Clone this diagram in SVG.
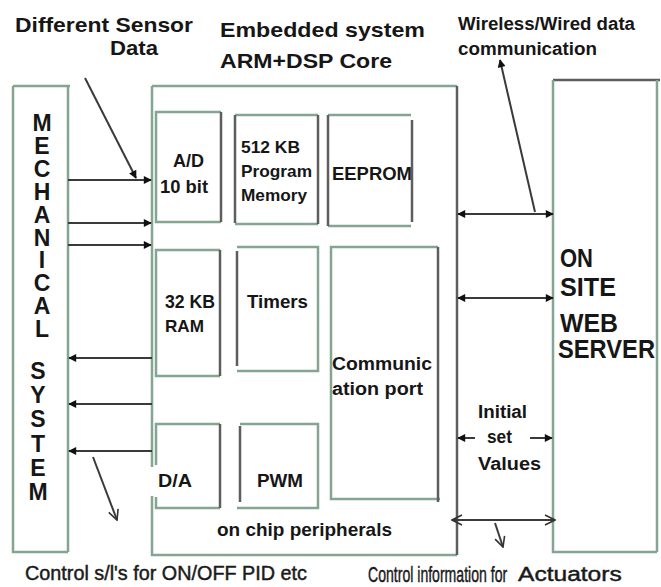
<svg xmlns="http://www.w3.org/2000/svg" width="661" height="587" viewBox="0 0 661 587">
<defs>
<style>
.g{fill:none;stroke:#84a592;stroke-width:2.5}
.d{fill:none;stroke:#5e5e5e;stroke-width:2.5}
.c{fill:none;stroke:#3a3a3a;stroke-width:2}
.t{font-family:"Liberation Sans",Arial,sans-serif;font-weight:bold;fill:#161616}
.n{font-family:"Liberation Sans",Arial,sans-serif;font-weight:normal;fill:#1a1a1a;stroke:#1a1a1a;stroke-width:0.45}
.v{writing-mode:vertical-rl;text-orientation:upright}
</style>
<marker id="ah" viewBox="0 0 10 10" refX="9" refY="5" markerWidth="9" markerHeight="8" markerUnits="userSpaceOnUse" orient="auto-start-reverse">
<path d="M0,0 L10,5 L0,10 Z" fill="#111"/>
</marker>
<marker id="oh" viewBox="0 0 12 12" refX="11" refY="6" markerWidth="12" markerHeight="12" markerUnits="userSpaceOnUse" orient="auto-start-reverse">
<path d="M1,1 L11,6 L1,11" fill="none" stroke="#333" stroke-width="1.6"/>
</marker>
</defs>
<rect width="661" height="587" fill="#fff"/>

<g id="titles">
<text class="t" x="15" y="32" font-size="21" textLength="178" lengthAdjust="spacingAndGlyphs">Different Sensor</text>
<text class="t" x="110" y="55" font-size="21" textLength="48" lengthAdjust="spacingAndGlyphs">Data</text>
<text class="t" x="220" y="37" font-size="21" textLength="205" lengthAdjust="spacingAndGlyphs">Embedded system</text>
<text class="t" x="220" y="68" font-size="21" textLength="172" lengthAdjust="spacingAndGlyphs">ARM+DSP Core</text>
<text class="t" x="458" y="30" font-size="18" textLength="177" lengthAdjust="spacingAndGlyphs">Wireless/Wired data</text>
<text class="t" x="458" y="55" font-size="18" textLength="139" lengthAdjust="spacingAndGlyphs">communication</text>
<text class="n" x="25" y="580" font-size="20" textLength="282" lengthAdjust="spacingAndGlyphs">Control s/l's for ON/OFF PID etc</text>
<text class="n" transform="translate(368,582) scale(0.64,1)" font-size="22">Control information for</text>
<text class="n" transform="translate(518,581) scale(1.17,1)" font-size="21">Actuators</text>
</g>

<g id="mechanical">
<path class="g" d="M13,86 H70 M13,86 V552 H68 M68,86 V552"/>
<text class="t v" x="42" y="110" font-size="23" letter-spacing="-3.1">MECHANICAL</text>
<text class="t v" x="38" y="358" font-size="23" letter-spacing="-1.8">SYSTEM</text>
</g>

<g id="embedded">
<path class="g" d="M152,86 H457 M152,86 V467 M152,496 V555 H457"/>
<path class="d" d="M457,86 V555"/>
<text class="t" x="217" y="536" font-size="19" textLength="175" lengthAdjust="spacingAndGlyphs">on chip peripherals</text>
</g>

<g id="ad">
<path class="g" d="M221,112 H156 V222 H221"/>
<path class="d" d="M221,112 V222"/>
<text class="t" x="173" y="167" font-size="18" textLength="31" lengthAdjust="spacingAndGlyphs">A/D</text>
<text class="t" x="160" y="193" font-size="18" textLength="48" lengthAdjust="spacingAndGlyphs">10 bit</text>
</g>

<g id="program">
<path class="g" d="M235,115 H318 M235,224 H318"/>
<path class="d" d="M235,115 V223 M318,115 V224"/>
<text class="t" x="241" y="153" font-size="17" textLength="59" lengthAdjust="spacingAndGlyphs">512 KB</text>
<text class="t" x="241" y="177" font-size="17" textLength="71" lengthAdjust="spacingAndGlyphs">Program</text>
<text class="t" x="241" y="201" font-size="17" textLength="66" lengthAdjust="spacingAndGlyphs">Memory</text>
</g>

<g id="eeprom">
<path class="g" d="M328,115 H411 M328,226 H411"/>
<path class="d" d="M328,115 V226 M412,120 V222"/>
<text class="t" x="332" y="180" font-size="18" textLength="80" lengthAdjust="spacingAndGlyphs">EEPROM</text>
</g>

<g id="ram">
<path class="g" d="M220,250 H156 V376 H220"/>
<path class="d" d="M220,250 V376"/>
<text class="t" x="165" y="308" font-size="18" textLength="50" lengthAdjust="spacingAndGlyphs">32 KB</text>
<text class="t" x="165" y="332" font-size="17" textLength="39" lengthAdjust="spacingAndGlyphs">RAM</text>
</g>

<g id="timers">
<path class="g" d="M237,247 H318 V371 H237"/>
<path class="d" d="M237,251 V366"/>
<text class="t" x="247" y="308" font-size="18" textLength="61" lengthAdjust="spacingAndGlyphs">Timers</text>
</g>

<g id="comm">
<path class="g" d="M438,247 H331 V499 H440"/>
<path class="d" d="M438,247 V502"/>
<text class="t" x="332" y="370" font-size="18" textLength="100" lengthAdjust="spacingAndGlyphs">Communic</text>
<text class="t" x="332" y="395" font-size="18" textLength="91" lengthAdjust="spacingAndGlyphs">ation port</text>
</g>

<g id="da">
<path class="g" d="M220,424 H156 V465 M156,497 V508 H220"/>
<path class="d" d="M220,424 V508"/>
<text class="t" x="158" y="487" font-size="18" textLength="34" lengthAdjust="spacingAndGlyphs">D/A</text>
</g>

<g id="pwm">
<path class="g" d="M240,424 H318 V508 H237"/>
<path class="d" d="M240,426 V502"/>
<text class="t" x="257" y="487" font-size="18" textLength="46" lengthAdjust="spacingAndGlyphs">PWM</text>
</g>

<g id="server">
<path class="d" d="M553,80 H660"/>
<path class="g" d="M553,80 V552 H657 M657,80 V552"/>
<text class="t" x="560" y="267" font-size="25" textLength="33" lengthAdjust="spacingAndGlyphs">ON</text>
<text class="t" x="560" y="296" font-size="25" textLength="56" lengthAdjust="spacingAndGlyphs">SITE</text>
<text class="t" x="560" y="332" font-size="25" textLength="58" lengthAdjust="spacingAndGlyphs">WEB</text>
<text class="t" x="558" y="358" font-size="25" textLength="97" lengthAdjust="spacingAndGlyphs">SERVER</text>
</g>

<g id="values">
<text class="t" x="478" y="418" font-size="18" textLength="49" lengthAdjust="spacingAndGlyphs">Initial</text>
<text class="t" x="487" y="443" font-size="18" textLength="25" lengthAdjust="spacingAndGlyphs">set</text>
<text class="t" x="478" y="470" font-size="18" textLength="63" lengthAdjust="spacingAndGlyphs">Values</text>
</g>

<g id="connectors">
<line class="c" x1="85" y1="78" x2="136" y2="178" marker-end="url(#ah)"/>
<line class="c" x1="68" y1="180" x2="151" y2="180" marker-end="url(#ah)"/>
<line class="c" x1="68" y1="223" x2="151" y2="223" marker-end="url(#ah)"/>
<line class="c" x1="68" y1="245" x2="151" y2="245" marker-end="url(#ah)"/>
<line class="c" x1="152" y1="358" x2="69" y2="358" marker-end="url(#ah)"/>
<line class="c" x1="152" y1="404" x2="69" y2="404" marker-end="url(#ah)"/>
<line class="c" x1="152" y1="451" x2="69" y2="451" marker-end="url(#ah)"/>
<line class="c" x1="93" y1="457" x2="117" y2="520" stroke-width="1.5" marker-end="url(#oh)"/>
<line class="c" x1="535" y1="212" x2="500" y2="60" marker-end="url(#ah)"/>
<line class="c" x1="458" y1="214" x2="553" y2="214" marker-start="url(#ah)" marker-end="url(#ah)"/>
<line class="c" x1="458" y1="298" x2="553" y2="298" marker-start="url(#ah)" marker-end="url(#ah)"/>
<line class="c" x1="475" y1="438" x2="458" y2="438" marker-end="url(#ah)"/>
<line class="c" x1="530" y1="438" x2="552" y2="438" marker-end="url(#ah)"/>
<line class="c" x1="452" y1="520" x2="555" y2="520" marker-start="url(#oh)" marker-end="url(#oh)"/>
<line class="c" x1="495" y1="523" x2="503" y2="547" stroke-width="1.5" marker-end="url(#oh)"/>
</g>
</svg>
